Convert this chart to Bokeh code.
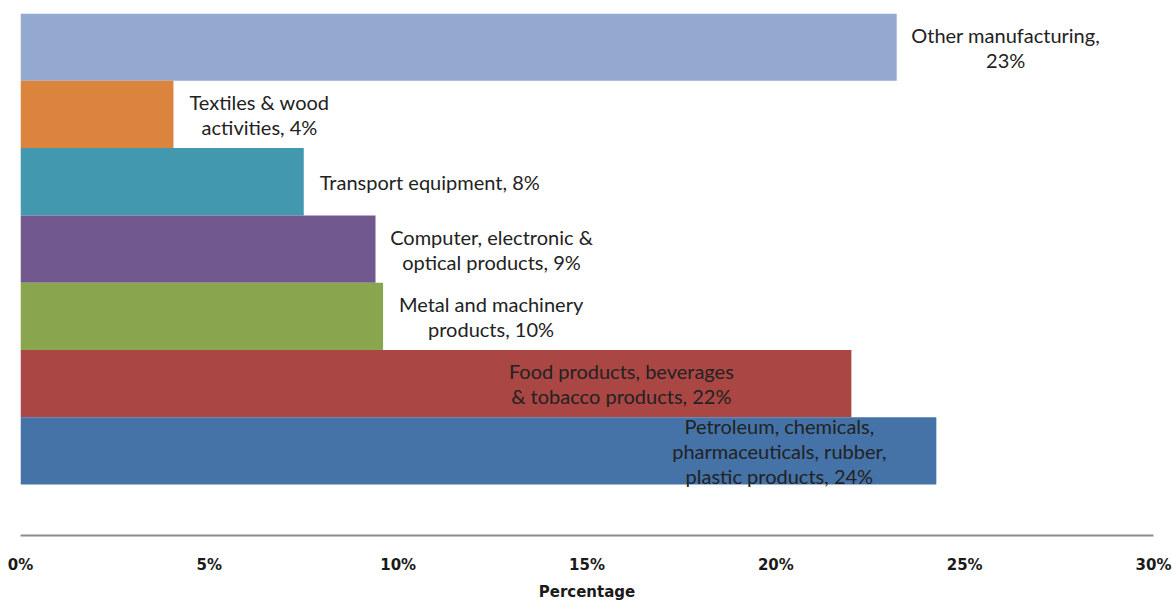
from bokeh.plotting import figure
from bokeh.models import Range1d, NumeralTickFormatter, FixedTicker, ColumnDataSource
from bokeh.core.properties import value
from bokeh.embed import file_html
from bokeh.resources import INLINE

# ---- data (top to bottom as in the chart) ----
categories = [
    "Other manufacturing",
    "Textiles & wood activities",
    "Transport equipment",
    "Computer, electronic & optical products",
    "Metal and machinery products",
    "Food products, beverages & tobacco products",
    "Petroleum, chemicals, pharmaceuticals, rubber, plastic products",
]
shares = [23.2, 4.05, 7.5, 9.4, 9.6, 22.0, 24.25]  # percent
label_texts = [
    "Other manufacturing,\n23%",
    "Textiles & wood\nactivities, 4%",
    "Transport equipment, 8%",
    "Computer, electronic &\noptical products, 9%",
    "Metal and machinery\nproducts, 10%",
    "Food products, beverages\n& tobacco products, 22%",
    "Petroleum, chemicals,\npharmaceuticals, rubber,\nplastic products, 24%",
]
tick_values = [0, 5, 10, 15, 20, 25, 30]

# ---- styling ----
colors = ["#93A9CF", "#DB843D", "#4198AF", "#71588F", "#89A54E", "#AA4643", "#4572A7"]
label_offsets = [109, 86, 126, 116, 108, -230, -157]  # px from bar end to label centre

n = len(categories)
ypos = [n - 1 - i for i in range(n)]

src = ColumnDataSource(dict(
    y=ypos, right=[s / 100 for s in shares], color=colors,
    label=label_texts, xoff=label_offsets,
))

p = figure(
    width=1172, height=603,
    x_range=Range1d(0, 0.30), y_range=Range1d(-1.256, n - 0.5),
    output_backend="svg", toolbar_location=None,
    min_border_left=20, min_border_right=19, min_border_top=13, min_border_bottom=67,
)
p.hbar(y="y", right="right", left=0, height=1.0, fill_color="color",
       line_color=None, source=src)

p.text(x="right", y="y", text="label", x_offset="xoff", source=src,
       text_align="center", text_baseline="middle",
       text_font=value("Lato"), text_font_size="20px", text_color="#222222",
       text_line_height=1.04)

p.xaxis.ticker = FixedTicker(ticks=[t / 100 for t in tick_values])
p.xaxis.formatter = NumeralTickFormatter(format="0%")
p.xaxis.axis_line_color = "#8C8C8C"
p.xaxis.axis_line_width = 2
p.xaxis.major_tick_line_color = None
p.xaxis.minor_tick_line_color = None
p.xaxis.major_label_standoff = 14
p.xaxis.major_label_text_font = "DejaVu Sans"
p.xaxis.major_label_text_font_style = "bold"
p.xaxis.major_label_text_font_size = "15px"
p.xaxis.major_label_text_color = "#1a1a1a"
p.xaxis.axis_label = "Percentage"
p.xaxis.axis_label_standoff = 6
p.xaxis.axis_label_text_font = "DejaVu Sans"
p.xaxis.axis_label_text_font_style = "bold"
p.xaxis.axis_label_text_font_size = "15px"
p.xaxis.axis_label_text_color = "#1a1a1a"

p.yaxis.visible = False
p.grid.visible = False
p.outline_line_color = None

open("out.html", "w").write(file_html(p, INLINE))
